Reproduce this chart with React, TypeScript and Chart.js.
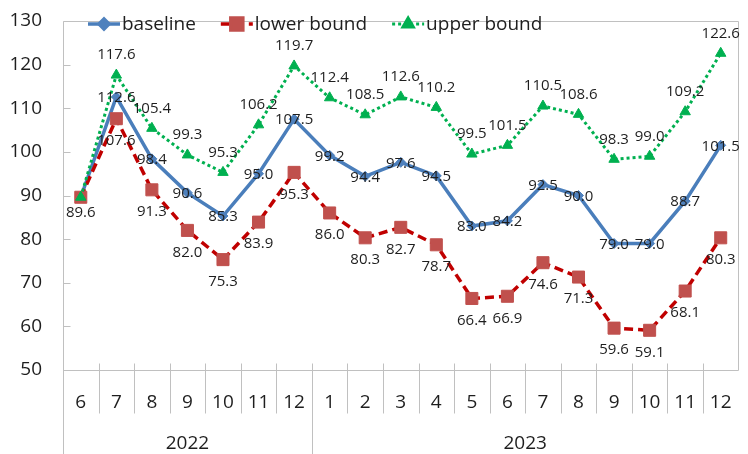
import React, { useEffect, useRef } from "react";
import { Chart, registerables } from "chart.js";
import { drawPoint } from "chart.js/helpers";

Chart.register(...registerables);

// Monthly index, June 2022 – December 2023
const months = ["6", "7", "8", "9", "10", "11", "12", "1", "2", "3", "4", "5", "6", "7", "8", "9", "10", "11", "12"];
const yearLabels = ["2022", "2023"];
const monthsPerYear = [7, 12];

const baseline = [89.6, 112.6, 98.4, 90.6, 85.3, 95.0, 107.5, 99.2, 94.4, 97.6, 94.5, 83.0, 84.2, 92.5, 90.0, 79.0, 79.0, 88.7, 101.5];
const lowerBound = [89.6, 107.6, 91.3, 82.0, 75.3, 83.9, 95.3, 86.0, 80.3, 82.7, 78.7, 66.4, 66.9, 74.6, 71.3, 59.6, 59.1, 68.1, 80.3];
const upperBound = [89.6, 117.6, 105.4, 99.3, 95.3, 106.2, 119.7, 112.4, 108.5, 112.6, 110.2, 99.5, 101.5, 110.5, 108.6, 98.3, 99.0, 109.2, 122.6];

const seriesNames = ["baseline", "lower bound", "upper bound"];

const FONT = "'Open Sans', 'Noto Sans', sans-serif";
const TEXT = "#1e1e1e";
const AXIS = "#c0c0c0";

// vertical offset of each series' value labels relative to its markers
const labelOffsets = [1, 22, -20];

const frame = {
  id: "frame",
  beforeDatasetsDraw(chart: any) {
    const { ctx, chartArea: a, scales } = chart;
    const x = scales.x;
    const y = scales.y;
    const L = Math.round(a.left) + 0.5;
    const R = Math.round(a.right) - 0.5;
    const T = Math.round(a.top) + 0.5;
    const B = Math.round(a.bottom) + 0.5;
    ctx.save();
    ctx.strokeStyle = AXIS;
    ctx.lineWidth = 1;
    ctx.beginPath();
    // plot border (top, right) and axes
    ctx.moveTo(L, T);
    ctx.lineTo(R, T);
    ctx.lineTo(R, B);
    ctx.moveTo(L, T);
    ctx.lineTo(L, chart.height);
    ctx.moveTo(L, B);
    ctx.lineTo(R, B);
    // inside tick marks on the value axis
    y.ticks.forEach((t: any) => {
      const py = Math.round(y.getPixelForValue(t.value)) + 0.5;
      ctx.moveTo(L, py);
      ctx.lineTo(L + 7, py);
    });
    // month separators and year dividers
    const yearEnds = new Set<number>();
    let acc = 0;
    monthsPerYear.forEach((n) => {
      acc += n;
      yearEnds.add(acc);
    });
    for (let i = 1; i < months.length; i++) {
      const px = Math.round((x.getPixelForValue(i - 1) + x.getPixelForValue(i)) / 2) + 0.5;
      ctx.moveTo(px, B - 7);
      ctx.lineTo(px, yearEnds.has(i) ? chart.height : B + 43);
    }
    ctx.stroke();
    ctx.restore();
  },
};

const pointLabels = {
  id: "pointLabels",
  afterDatasetsDraw(chart: any) {
    const { ctx } = chart;
    ctx.save();
    ctx.font = `15px ${FONT}`;
    ctx.fillStyle = TEXT;
    ctx.textAlign = "center";
    ctx.textBaseline = "middle";
    chart.data.datasets.forEach((ds: any, di: number) => {
      const meta = chart.getDatasetMeta(di);
      meta.data.forEach((pt: any, i: number) => {
        // the three series share the first value: label it once, under the markers
        if (i === 0 && di !== 0) return;
        const off = i === 0 ? 15 : labelOffsets[di];
        ctx.fillText(Number(ds.data[i]).toFixed(1), pt.x, pt.y + off);
      });
    });
    ctx.restore();
  },
};

const legendAndYears = {
  id: "legendAndYears",
  afterDraw(chart: any) {
    const { ctx, scales } = chart;
    const x = scales.x;
    ctx.save();
    // legend row
    ctx.font = `19px ${FONT}`;
    ctx.textBaseline = "middle";
    ctx.textAlign = "left";
    let lx = 88;
    const ly = 24;
    chart.data.datasets.forEach((ds: any) => {
      ctx.save();
      ctx.strokeStyle = ds.borderColor;
      ctx.lineWidth = ds.borderWidth;
      ctx.setLineDash(ds.borderDash || []);
      ctx.beginPath();
      ctx.moveTo(lx, ly);
      ctx.lineTo(lx + 32, ly);
      ctx.stroke();
      ctx.setLineDash([]);
      ctx.fillStyle = ds.pointBackgroundColor;
      ctx.strokeStyle = ds.pointBorderColor;
      drawPoint(ctx, { pointStyle: ds.pointStyle, rotation: 0, radius: ds.pointRadius, borderWidth: ds.pointBorderWidth }, lx + 16, ly);
      ctx.restore();
      ctx.fillStyle = TEXT;
      ctx.fillText(ds.label, lx + 34, ly + 1);
      lx += 34 + ctx.measureText(ds.label).width + 25;
    });
    // year row under the month labels
    ctx.textAlign = "center";
    let start = 0;
    yearLabels.forEach((yl, k) => {
      const end = start + monthsPerYear[k] - 1;
      const cx = (x.getPixelForValue(start) + x.getPixelForValue(end)) / 2;
      ctx.fillText(yl, cx, 444);
      start = end + 1;
    });
    ctx.restore();
  },
};

export default function App() {
  const canvasRef = useRef<HTMLCanvasElement | null>(null);

  useEffect(() => {
    const canvas = canvasRef.current;
    if (!canvas) return;
    const chart = new Chart(canvas, {
      type: "line",
      data: {
        labels: months,
        datasets: [
          {
            label: seriesNames[0],
            data: baseline,
            borderColor: "#4a7ebb",
            borderWidth: 3.5,
            pointStyle: "rectRot",
            pointRadius: 5,
            pointBackgroundColor: "#4f81bd",
            pointBorderColor: "#4f81bd",
            pointBorderWidth: 1,
            tension: 0,
            order: 3,
          },
          {
            label: seriesNames[1],
            data: lowerBound,
            borderColor: "#c00000",
            borderWidth: 3.5,
            borderDash: [9, 5],
            pointStyle: "rect",
            pointRadius: 8.5,
            pointBackgroundColor: "#c0504d",
            pointBorderColor: "#c0504d",
            pointBorderWidth: 1,
            tension: 0,
            order: 2,
          },
          {
            label: seriesNames[2],
            data: upperBound,
            borderColor: "#00b050",
            borderWidth: 3,
            borderDash: [3, 3],
            pointStyle: "triangle",
            pointRadius: 6,
            pointBackgroundColor: "#00b050",
            pointBorderColor: "#00b050",
            pointBorderWidth: 1,
            tension: 0,
            order: 1,
          },
        ],
      },
      options: {
        responsive: false,
        animation: false,
        devicePixelRatio: 1,
        layout: { padding: { top: 21, right: 3, left: 0, bottom: 0 } },
        plugins: { legend: { display: false }, tooltip: { enabled: false } },
        scales: {
          x: {
            type: "category",
            offset: true,
            grid: { display: false, drawTicks: false },
            border: { display: false },
            ticks: {
              autoSkip: false,
              maxRotation: 0,
              padding: 21,
              color: TEXT,
              font: { family: FONT, size: 19 },
            },
            afterFit(scale: any) {
              scale.height = 84;
              scale.paddingLeft = 0;
              scale.paddingRight = 0;
            },
          },
          y: {
            min: 50,
            max: 130,
            grid: { display: false, drawTicks: false },
            border: { display: false },
            ticks: {
              stepSize: 10,
              padding: 21,
              color: TEXT,
              font: { family: FONT, size: 19 },
            },
            afterFit(scale: any) {
              scale.width = 63;
              scale.paddingTop = 0;
              scale.paddingBottom = 0;
            },
          },
        },
      },
      plugins: [frame, pointLabels, legendAndYears],
    } as any);
    return () => chart.destroy();
  }, []);

  return (
    <div style={{ position: "fixed", left: 0, top: 0, width: 748, height: 454, background: "#fff" }}>
      <canvas ref={canvasRef} width={748} height={454} />
    </div>
  );
}
